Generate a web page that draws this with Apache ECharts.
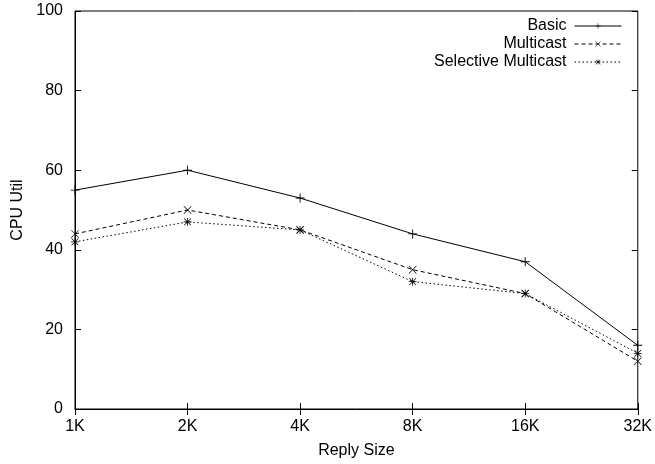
<!DOCTYPE html>
<html>
<head>
<meta charset="utf-8">
<script src="https://cdn.jsdelivr.net/npm/echarts@6/dist/echarts.min.js"></script>
<style>
  html, body { margin: 0; padding: 0; background: #fff; }
  #chart { width: 655px; height: 464px; }
</style>
</head>
<body>
<div id="chart"></div>
<script>
var sizes = ['1K', '2K', '4K', '8K', '16K', '32K'];
var basic = [55, 60, 53, 44, 37, 16];
var multicast = [44, 50, 45, 35, 29, 12];
var selective = [42, 47, 45, 32, 29, 14];

var plusPath = 'path://M0,4.5H10V5.5H0Z M4.5,0H5.5V10H4.5Z';
var crossPath = 'path://M0.6,0L10,9.4L9.4,10L0,0.6Z M9.4,0L10,0.6L0.6,10L0,9.4Z';
var starPath = 'path://M0,4.5H10V5.5H0Z M4.5,0H5.5V10H4.5Z M1.1,0.5L9.5,8.9L8.9,9.5L0.5,1.1Z M8.9,0.5L9.5,1.1L1.1,9.5L0.5,8.9Z';

drawChart();

function drawChart() {
    var font = 'Liberation Sans, Arial, sans-serif';
    var tick = { show: true, inside: true, length: 6, lineStyle: { color: '#000' } };

    var option = {
        animation: false,
        backgroundColor: '#fff',
        grid: {
            left: 75, right: 14, top: 11, bottom: 55,
            show: true, borderColor: '#000', borderWidth: 1
        },
        legend: {
            orient: 'vertical',
            align: 'right',
            right: 28,
            top: 13,
            itemWidth: 47,
            itemHeight: 7,
            itemGap: 2,
            lineStyle: { width: 1 },
            textStyle: { fontFamily: font, fontSize: 16, color: '#000', padding: [0, 3, 0, 0] },
            data: ['Basic', 'Multicast', 'Selective Multicast']
        },
        xAxis: [{
            type: 'category',
            data: sizes,
            boundaryGap: false,
            name: 'Reply Size',
            nameLocation: 'middle',
            nameGap: 34,
            nameTextStyle: { fontFamily: font, fontSize: 16, color: '#000' },
            axisLine: { lineStyle: { color: '#000' } },
            axisTick: tick,
            axisLabel: { fontFamily: font, fontSize: 16, color: '#000', margin: 10 },
            splitLine: { show: false }
        }, {
            type: 'category',
            data: sizes,
            boundaryGap: false,
            position: 'top',
            axisLine: { show: false },
            axisTick: tick,
            axisLabel: { show: false }
        }],
        yAxis: [{
            type: 'value',
            min: 0, max: 100, interval: 20,
            name: 'CPU Util',
            nameLocation: 'middle',
            nameGap: 48,
            nameTextStyle: { fontFamily: font, fontSize: 16, color: '#000' },
            axisLine: { show: true, lineStyle: { color: '#000' } },
            axisTick: tick,
            axisLabel: { fontFamily: font, fontSize: 16, color: '#000', margin: 12 },
            splitLine: { show: false }
        }, {
            type: 'value',
            min: 0, max: 100, interval: 20,
            position: 'right',
            axisLine: { show: false },
            axisTick: tick,
            axisLabel: { show: false },
            splitLine: { show: false }
        }],
        series: [{
            name: 'Basic',
            type: 'line',
            data: basic,
            symbol: plusPath,
            symbolSize: 9,
            itemStyle: { color: '#000' },
            lineStyle: { color: '#000', width: 1, type: 'solid' }
        }, {
            name: 'Multicast',
            type: 'line',
            data: multicast,
            symbol: crossPath,
            symbolSize: 8,
            itemStyle: { color: '#000' },
            lineStyle: { color: '#000', width: 1, type: [4, 3] }
        }, {
            name: 'Selective Multicast',
            type: 'line',
            data: selective,
            symbol: starPath,
            symbolSize: 8,
            itemStyle: { color: '#000' },
            lineStyle: { color: '#000', width: 1, type: [1.5, 2.5] }
        }]
    };

    var myChart = echarts.init(document.getElementById('chart'));
    myChart.setOption(option, true);
}
</script>
</body>
</html>
